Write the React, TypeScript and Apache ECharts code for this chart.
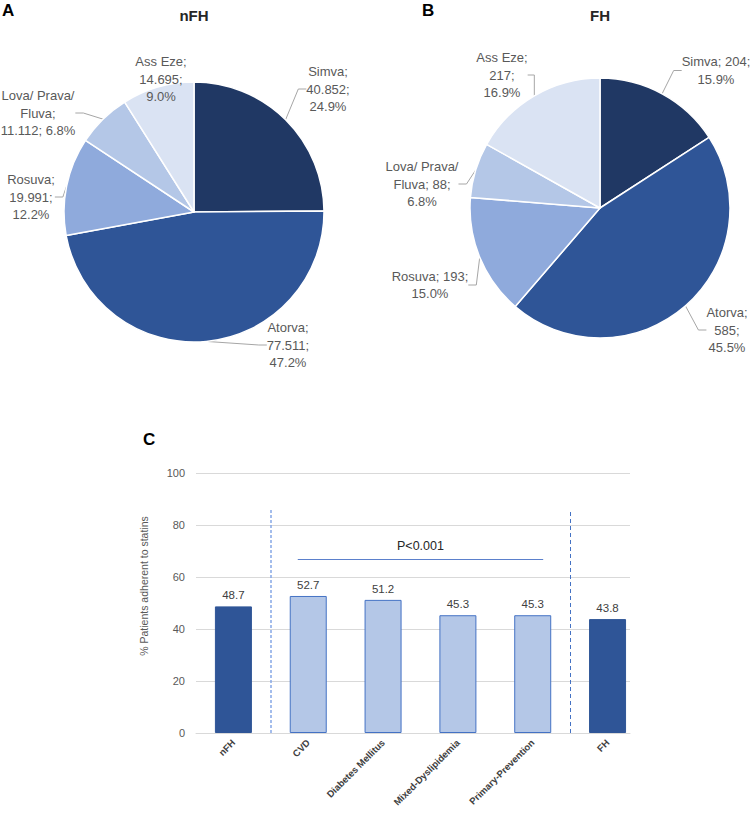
import React, { useEffect, useRef } from "react";
import * as echarts from "echarts";

// ---------- data ----------
const DRUGS = ["Simva", "Atorva", "Rosuva", "Lova/ Prava/ Fluva", "Ass Eze"];
const NFH_VALUES = [40852, 77511, 19991, 11112, 14695];
const FH_VALUES = [204, 585, 193, 88, 217];

const GROUPS = ["nFH", "CVD", "Diabetes Mellitus", "Mixed-Dyslipidemia", "Primary-Prevention", "FH"];
const ADHERENCE = [48.7, 52.7, 51.2, 45.3, 45.3, 43.8];
const GROUP_KIND = ["ref", "sub", "sub", "sub", "sub", "ref"];
const Y_TICKS = [0, 20, 40, 60, 80, 100];
const P_TEXT = "P<0.001";
const P_LEVEL = 67;

// ---------- styles ----------
const FONT = "'Liberation Sans', Arial, sans-serif";
const SLICE_COLORS = ["#203864", "#2F5597", "#8FAADC", "#B4C7E7", "#DAE3F3"];
const NFH_TEMPLATES = ["{n};\n{v};\n{p}%", "{n};\n{v};\n{p}%", "{n};\n{v};\n{p}%", "{n};\n{v}; {p}%", "{n};\n{v};\n{p}%"];
const FH_TEMPLATES = ["{n}; {v};\n{p}%", "{n};\n{v};\n{p}%", "{n}; {v};\n{p}%", "{n}; {v};\n{p}%", "{n};\n{v};\n{p}%"];
const NFH_LABEL_POS = [[328, 89], [288, 345], [31, 197], [38, 113], [161, 79]];
const FH_LABEL_POS = [[716, 70.5], [727, 330], [430, 285], [422, 184], [502, 75]];

const thousands = (v: number) => String(v).replace(/\B(?=(\d{3})+(?!\d))/g, ".");
const wrapName = (n: string) => {
  if (n.length <= 12) return n;
  const i = n.lastIndexOf(" ", 13);
  return i > 0 ? n.slice(0, i) + "\n" + n.slice(i + 1) : n;
};

function pieSeries(values: number[], templates: string[], pos: number[][], center: number[], fmtV: (v: number) => string) {
  const total = values.reduce((a, b) => a + b, 0);
  return {
    type: "pie",
    center,
    radius: 130,
    startAngle: 90,
    clockwise: true,
    avoidLabelOverlap: false,
    itemStyle: { borderColor: "#ffffff", borderWidth: 1.5 },
    data: DRUGS.map((n, i) => ({ name: n, value: values[i], itemStyle: { color: SLICE_COLORS[i] } })),
    label: {
      show: true,
      position: "outside",
      fontFamily: FONT,
      fontSize: 13,
      lineHeight: 17.5,
      color: "#595959",
      align: "center",
      formatter: (p: any) =>
        templates[p.dataIndex]
          .replace("{n}", wrapName(p.name))
          .replace("{v}", fmtV(p.value))
          .replace("{p}", ((p.value / total) * 100).toFixed(1)),
    },
    labelLine: { show: true, length: 8, length2: 8, lineStyle: { color: "#A6A6A6", width: 1 } },
    labelLayout: (p: any) => ({
      x: pos[p.dataIndex][0],
      y: pos[p.dataIndex][1],
      align: "center",
      verticalAlign: "middle",
    }),
    emphasis: { disabled: true },
  };
}

export default function App() {
  const ref = useRef<HTMLDivElement>(null);
  useEffect(() => {
    if (!ref.current) return;
    const chart = echarts.init(ref.current, null, { renderer: "svg" });
    const option: any = {
      animation: false,
      backgroundColor: "#ffffff",
      textStyle: { fontFamily: FONT },
      grid: [{ left: 196, top: 473, width: 434, height: 260, containLabel: false, outerBoundsMode: "none" }],
      xAxis: [
        {
          type: "value",
          gridIndex: 0,
          min: -0.5,
          max: 5.3,
          splitLine: { show: false },
          axisTick: { show: false },
          axisLine: { show: true, lineStyle: { color: "#D9D9D9", width: 1 } },
          axisLabel: {
            customValues: GROUPS.map((_, i) => i),
            formatter: (v: number) => GROUPS[Math.round(v)] ?? "",
            rotate: 45,
            fontSize: 9.5,
            fontWeight: "bold",
            color: "#404040",
            fontFamily: FONT,
            margin: 8,
          },
        },
      ],
      yAxis: [
        {
          type: "value",
          gridIndex: 0,
          min: Y_TICKS[0],
          max: Y_TICKS[Y_TICKS.length - 1],
          interval: Y_TICKS[1] - Y_TICKS[0],
          axisLine: { show: false },
          axisTick: { show: false },
          splitLine: { lineStyle: { color: "#D9D9D9", width: 1 } },
          axisLabel: { fontSize: 11, color: "#595959", margin: 11, fontFamily: FONT },
          name: "% Patients adherent to statins",
          nameLocation: "middle",
          nameGap: 47,
          nameTextStyle: { fontSize: 10.5, color: "#595959", fontFamily: FONT, padding: [0, 0, 0, 34] },
        },
      ],
      series: [
        pieSeries(NFH_VALUES, NFH_TEMPLATES, NFH_LABEL_POS, [194, 212], thousands),
        pieSeries(FH_VALUES, FH_TEMPLATES, FH_LABEL_POS, [600, 208], (v) => String(v)),
        {
          type: "bar",
          xAxisIndex: 0,
          yAxisIndex: 0,
          barWidth: 37,
          data: ADHERENCE.map((v, i) => ({
            value: [i, v],
            itemStyle:
              GROUP_KIND[i] === "ref"
                ? { color: "#2F5597", borderColor: "#2F5597", borderWidth: 1 }
                : { color: "#B4C7E7", borderColor: "#4472C4", borderWidth: 1 },
          })),
          label: {
            show: true,
            position: "top",
            distance: 5,
            fontSize: 11.5,
            color: "#404040",
            fontFamily: FONT,
            formatter: (p: any) => p.value[1].toFixed(1),
          },
          emphasis: { disabled: true },
          markLine: {
            silent: true,
            symbol: "none",
            animation: false,
            data: [
              [
                { coord: [0.5, 0], lineStyle: { color: "#86A8E6", type: [3, 2], width: 1.5 }, label: { show: false } },
                { coord: [0.5, 86], lineStyle: { color: "#86A8E6", type: [3, 2], width: 1.5 } },
              ],
              [
                { coord: [4.5, 0], lineStyle: { color: "#4472C4", type: [4, 3], width: 1 }, label: { show: false } },
                { coord: [4.5, 86], lineStyle: { color: "#4472C4", type: [4, 3], width: 1 } },
              ],
              [
                {
                  coord: [0.86, P_LEVEL],
                  lineStyle: { color: "#5B80CC", type: "solid", width: 1 },
                  label: {
                    show: true,
                    position: "middle",
                    formatter: P_TEXT,
                    fontSize: 12.5,
                    color: "#262626",
                    fontFamily: FONT,
                    distance: 6,
                  },
                },
                { coord: [4.14, P_LEVEL], lineStyle: { color: "#5B80CC", type: "solid", width: 1 } },
              ],
            ],
          },
        },
      ],
      graphic: [
        { type: "text", x: 2, y: 2, style: { text: "A", font: `bold 17px ${FONT}`, fill: "#000" } },
        { type: "text", x: 422, y: 2, style: { text: "B", font: `bold 17px ${FONT}`, fill: "#000" } },
        { type: "text", x: 143, y: 431, style: { text: "C", font: `bold 17px ${FONT}`, fill: "#000" } },
        { type: "text", x: 194, y: 15, style: { text: "nFH", font: `bold 15px ${FONT}`, fill: "#262626", textAlign: "center", textVerticalAlign: "middle" } },
        { type: "text", x: 600, y: 15, style: { text: "FH", font: `bold 15px ${FONT}`, fill: "#262626", textAlign: "center", textVerticalAlign: "middle" } },
      ],
    };
    chart.setOption(option);
    return () => chart.dispose();
  }, []);
  return <div ref={ref} style={{ position: "fixed", left: 0, top: 0, width: 753, height: 815 }} />;
}
